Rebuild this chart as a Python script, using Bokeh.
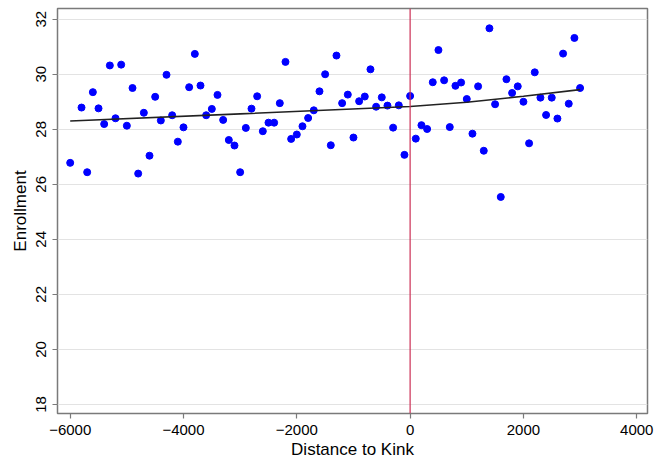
from bokeh.plotting import figure
from bokeh.models import Span, FixedTicker, Range1d
from bokeh.embed import file_html
from bokeh.resources import INLINE

dist = [-6000, -5800, -5700, -5600, -5500, -5400, -5300, -5200, -5100, -5000,
        -4900, -4800, -4700, -4600, -4500, -4400, -4300, -4200, -4100, -4000,
        -3900, -3800, -3700, -3600, -3500, -3400, -3300, -3200, -3100, -3000,
        -2900, -2800, -2700, -2600, -2500, -2400, -2300, -2200, -2100, -2000,
        -1900, -1800, -1700, -1600, -1500, -1400, -1300, -1200, -1100, -1000,
        -900, -800, -700, -600, -500, -400, -300, -200, -100, 0,
        100, 200, 300, 400, 500, 600, 700, 800, 900, 1000,
        1100, 1200, 1300, 1400, 1500, 1600, 1700, 1800, 1900, 2000,
        2100, 2200, 2300, 2400, 2500, 2600, 2700, 2800, 2900, 3000]
enroll = [26.78, 28.79, 26.44, 29.35, 28.76, 28.19, 30.32, 28.40, 30.35, 28.13,
          29.50, 26.39, 28.60, 27.04, 29.18, 28.32, 29.98, 28.51, 27.55, 28.07,
          29.53, 30.74, 29.59, 28.51, 28.74, 29.25, 28.34, 27.61, 27.41, 26.44,
          28.05, 28.75, 29.20, 27.93, 28.24, 28.24, 28.95, 30.45, 27.65, 27.81,
          28.11, 28.41, 28.69, 29.38, 30.00, 27.42, 30.68, 28.95, 29.26, 27.70,
          29.02, 29.19, 30.18, 28.82, 29.16, 28.86, 28.06, 28.87, 27.07, 29.21,
          27.66, 28.15, 28.01, 29.71, 30.88, 29.78, 28.08, 29.58, 29.70, 29.10,
          27.84, 29.56, 27.22, 31.67, 28.91, 25.54, 29.82, 29.32, 29.56, 29.00,
          27.49, 30.07, 29.15, 28.52, 29.15, 28.39, 30.75, 28.93, 31.32, 29.50]

fit_x = [-6000, -3000, 0, 1000, 2000, 3000]
fit_y = [28.30, 28.56, 28.83, 28.98, 29.20, 29.44]

x_ticks = [-6000, -4000, -2000, 0, 2000, 4000]
y_ticks = [18, 20, 22, 24, 26, 28, 30, 32]

FONT = "Liberation Sans"

p = figure(width=669, height=461, output_backend="svg", toolbar_location=None,
           x_range=Range1d(-6224, 4190), y_range=Range1d(17.67, 32.39),
           min_border_left=57, min_border_right=22, min_border_top=8, min_border_bottom=48,
           background_fill_color="white", border_fill_color="white")

p.outline_line_color = "#7a7a7a"
p.outline_line_width = 1.5
p.outline_line_alpha = 1.0

p.xgrid.grid_line_color = None
p.ygrid.grid_line_color = "#e3e3e3"
p.ygrid.grid_line_width = 1.2
p.ygrid.ticker = FixedTicker(ticks=y_ticks)

p.xaxis.ticker = FixedTicker(ticks=x_ticks)
p.yaxis.ticker = FixedTicker(ticks=y_ticks)
for ax in (p.xaxis[0], p.yaxis[0]):
    ax.axis_line_color = None
    ax.major_tick_line_color = "#7a7a7a"
    ax.major_tick_line_width = 1.2
    ax.major_tick_out = 5
    ax.major_tick_in = 0
    ax.minor_tick_line_color = None
    ax.major_label_text_font = FONT
    ax.major_label_text_font_size = "15px"
    ax.major_label_text_color = "black"
    ax.major_label_standoff = 6
    ax.axis_label_text_font = FONT
    ax.axis_label_text_font_size = "17px"
    ax.axis_label_text_font_style = "normal"
    ax.axis_label_text_color = "black"

p.xaxis.axis_label = "Distance to Kink"
p.yaxis.axis_label = "Enrollment"
p.yaxis.major_label_orientation = "vertical"
p.xaxis.axis_label_standoff = 2
p.yaxis.axis_label_standoff = 4

p.add_layout(Span(location=0, dimension="height", line_color="#cc2f55", line_width=1.2))

p.scatter(dist, enroll, size=7, fill_color="#0000ff", line_color="#0000ff")
p.line(fit_x, fit_y, line_color="#222222", line_width=1.6)

open("out.html", "w").write(file_html(p, INLINE))
